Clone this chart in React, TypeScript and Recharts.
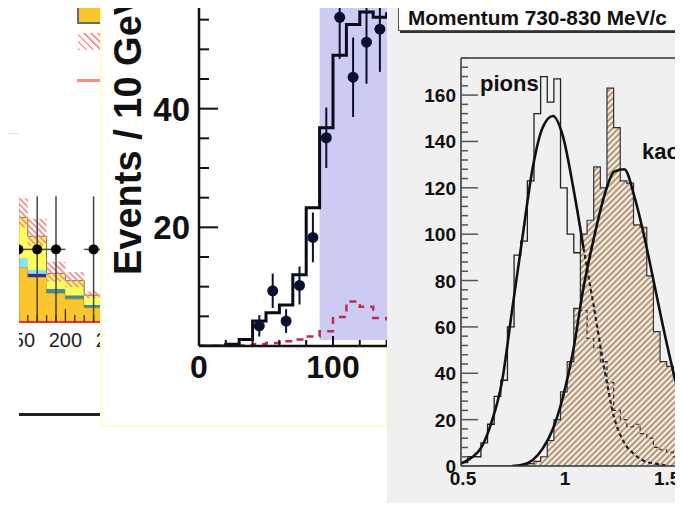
import React from "react";
import { ComposedChart, Area, Line, Scatter, ErrorBar, XAxis, YAxis, ReferenceLine } from "recharts";

const FONT = "'Liberation Sans', Arial, Helvetica, sans-serif";

// ---- left panel: stacked backgrounds (GeV bins), mostly hidden ----
const bgEdges = [140, 160, 180, 200, 220, 240, 260];
const bgOrange = [0.75, 0.62, 0.4, 0.32, 0.2, 0.17];
const bgTeal = [0, 0, 0.06, 0.05, 0.04, 0.04];
const bgNavy = [0, 0.05, 0, 0, 0, 0];
const bgCyan = [0.13, 0.05, 0, 0, 0, 0];
const bgYellow = [0.56, 0.46, 0.21, 0.2, 0.13, 0.1];
const bgBandLo = [1.3, 1.05, 0.56, 0.48, 0.33, 0.28];
const bgBandHi = [1.7, 1.42, 0.83, 0.69, 0.42, 0.36];
const bgPtX = [150, 170, 190, 230];
const bgPtY = [1, 1, 1, 1];
const bgTicks = [140, 150, 160, 170, 180, 190, 200, 210, 220, 230, 240, 250, 260, 270, 280];

// ---- middle panel: Events / 10 GeV ----
const evEdges = [0, 10, 20, 30, 40, 50, 60, 70, 80, 90, 100, 110, 120, 130, 140, 150];
const evMC = [0, 0, 0.3, 1.1, 4.2, 5.6, 6.9, 12, 23.3, 36.8, 49, 54.2, 56.3, 55.4, 56];
const evBkg = [0, 0, 0, 0.1, 0.3, 0.5, 0.8, 1.1, 1.6, 2.5, 4.9, 7.5, 6.6, 4.7, 4.5];
const evPtX = [45, 55, 65, 75, 85, 95, 105, 115, 125, 135];
const evPtY = [3.4, 9.3, 4.2, 10.2, 18.3, 35.1, 55.4, 45.3, 51.2, 53.4];
const evPtErr = [1.8, 2.9, 2, 3.2, 4.2, 5.1, 7, 6.7, 7, 7.2];
const evYTicks = [0, 5, 10, 15, 20, 25, 30, 35, 40, 45, 50, 55, 60];
const evXTicks = [0, 20, 40, 60, 80, 100, 120, 140];

// ---- right panel: Momentum 730-830 MeV/c ----
const pkEdges = [
  0.5, 0.5325, 0.565, 0.5975, 0.63, 0.6625, 0.695, 0.7275, 0.76, 0.7925, 0.825, 0.8575,
  0.89, 0.9225, 0.955, 0.9875, 1.02, 1.0525, 1.085, 1.1175, 1.15, 1.1825, 1.215, 1.2475,
  1.28, 1.3125, 1.345, 1.3775, 1.41, 1.4425, 1.475, 1.5075, 1.54, 1.5725, 1.605, 1.6375,
];
const pionHist = [
  1.5, 4, 4, 10, 18, 30, 37, 60, 91, 97, 123, 152, 168, 157, 167, 120, 100, 92, 67, 55,
  51, 45, 36, 24, 20, 17, 18, 14, 12, 8, 7, 6, 4, 2, 1,
];
const kaonHist = [
  0, 0, 0, 0, 0, 0, 0, 0, 0, 0, 1, 2, 4, 11, 20, 32, 45, 68, 100, 106, 129, 120, 163, 146,
  123, 122, 104, 103, 82, 58, 45, 43, 38, 30, 22,
];
const pionSolidBins = 18;
const pionFitX = [0.5, 0.55, 0.6, 0.65, 0.7, 0.75, 0.8, 0.85, 0.9, 0.95, 1.0, 1.05, 1.1];
const pionFitY = [1, 3.5, 8, 19, 36, 67, 98, 128, 146, 151, 142, 120, 94];
const pionTailX = [1.1, 1.15, 1.2, 1.25, 1.3, 1.35, 1.4, 1.45, 1.5];
const pionTailY = [94, 69, 43, 21, 10, 5, 2, 1, 0.3];
const kaonFitX = [0.75, 0.8, 0.85, 0.9, 0.95, 1.0, 1.05, 1.1, 1.15, 1.2, 1.25, 1.3, 1.35, 1.4, 1.45, 1.5, 1.55, 1.6, 1.65];
const kaonFitY = [0, 0.5, 2.5, 7.5, 16, 30, 50, 77, 98, 116, 127, 128, 116, 98, 77, 56, 37, 22, 12];
const pkYTicks = [0, 4, 8, 12, 16, 20, 24, 28, 32, 36, 40, 44, 48, 52, 56, 60, 64, 68, 72, 76, 80, 84, 88, 92, 96, 100, 104, 108, 112, 116, 120, 124, 128, 132, 136, 140, 144, 148, 152, 156, 160, 164, 168, 172, 176];
const pkXTicks = [0.5, 1, 1.5];

function steps(edges: number[], vals: number[], from = 0, to = vals.length) {
  const rows: { x: number; y: number }[] = [];
  rows.push({ x: edges[from], y: from === 0 ? 0 : vals[from - 1] });
  for (let i = from; i < to; i++) rows.push({ x: edges[i], y: vals[i] });
  rows.push({ x: edges[to], y: vals[to - 1] });
  return rows;
}
const zip = (xs: number[], ys: number[]) => xs.map((x, i) => ({ x, y: ys[i] }));

const bgRows = bgEdges.map((x, i) => {
  const j = Math.min(i, bgOrange.length - 1);
  return {
    x,
    orange: bgOrange[j],
    teal: bgTeal[j],
    navy: bgNavy[j],
    cyan: bgCyan[j],
    yellow: bgYellow[j],
    band: [bgBandLo[j], bgBandHi[j]],
  };
});
const bgPts = bgPtX.map((x, i) => ({ x, y: bgPtY[i], ey: [1, 0.73], ex: 10 }));

const evPts = evPtX.map((x, i) => ({ x, y: evPtY[i], ey: evPtErr[i] }));
const evShade = [
  { x: 90, y: [1, 60] },
  { x: 150, y: [1, 60] },
];

const BgXTick = ({ x, y, payload }: any) => {
  const v = payload.value;
  const major = v % 50 === 0;
  return (
    <g>
      <line x1={x} x2={x} y1={y} y2={y - (major ? 13 : 7)} stroke="#333" strokeWidth={1.3} />
      {major && (
        <text x={x} y={y + 25} textAnchor="middle" fontSize={20} fontFamily={FONT} fill="#222">
          {v}
        </text>
      )}
    </g>
  );
};

const EvYTick = ({ x, y, payload }: any) => {
  const v = payload.value;
  const major = v % 20 === 0;
  return (
    <g>
      <line x1={x} x2={x + (major ? 19 : 10)} y1={y} y2={y} stroke="#111" strokeWidth={2} />
      {major && v > 0 && (
        <text x={x - 9} y={y + 12} textAnchor="end" fontSize={33} fontWeight="bold" fontFamily={FONT} fill="#111">
          {v}
        </text>
      )}
    </g>
  );
};

const EvXTick = ({ x, y, payload }: any) => {
  const v = payload.value;
  const major = v % 100 === 0;
  return (
    <g>
      <line x1={x} x2={x} y1={y} y2={y - (major ? 10 : 6)} stroke="#111" strokeWidth={2} />
      {major && (
        <text x={x} y={y + 32} textAnchor="middle" fontSize={32} fontWeight="bold" fontFamily={FONT} fill="#111">
          {v}
        </text>
      )}
    </g>
  );
};

const PkYTick = ({ x, y, payload }: any) => {
  const v = payload.value;
  const major = v % 20 === 0;
  return (
    <g>
      <line x1={x} x2={x + (major ? 17 : 7)} y1={y} y2={y} stroke="#555" strokeWidth={1.5} />
      {major && v <= 160 && (
        <text x={x - 5} y={y + 7} textAnchor="end" fontSize={19} fontWeight="bold" fontFamily={FONT} fill="#111">
          {v}
        </text>
      )}
    </g>
  );
};

const PkXTick = ({ x, y, payload }: any) => (
  <text x={x + 2} y={y + 19} textAnchor="middle" fontSize={19} fontWeight="bold" fontFamily={FONT} fill="#111">
    {payload.value}
  </text>
);

const dot = (r: number, fill: string) => (p: any) => <circle cx={p.cx} cy={p.cy} r={r} fill={fill} />;

export default function App() {
  return (
    <div style={{ position: "relative", width: 683, height: 511, overflow: "hidden", background: "#fff", margin: -8, fontFamily: FONT }}>
      <svg width={0} height={0} style={{ position: "absolute" }}>
        <defs>
          <pattern id="kaonHatch" patternUnits="userSpaceOnUse" width={6} height={6}>
            <rect width={6} height={6} fill="#f5ecdf" />
            <path d="M0,6 L6,0 M-1,1 L1,-1 M5,7 L7,5" stroke="#b29a80" strokeWidth={2} />
          </pattern>
          <pattern id="redHatch" patternUnits="userSpaceOnUse" width={6} height={6}>
            <path d="M0,0 L6,6 M-1,5 L1,7 M5,-1 L7,1" stroke="#ff8c8c" strokeWidth={1.8} />
          </pattern>
        </defs>
      </svg>

      {/* left panel */}
      <div style={{ position: "absolute", left: 0, top: 133, width: 19, height: 1, background: "#e2e2e2" }} />
      <div style={{ position: "absolute", left: 19, top: 0, width: 110, height: 420, overflow: "hidden", background: "#fff" }}>
        <div style={{ position: "absolute", left: 58, top: -2, width: 24, height: 22, background: "#fdc52c", border: "2px solid #6a6a6a" }} />
        <div
          style={{
            position: "absolute",
            left: 59,
            top: 33,
            width: 26,
            height: 17,
            background: "repeating-linear-gradient(45deg, #ff9a9a 0 2px, transparent 2px 5px)",
          }}
        />
        <div style={{ position: "absolute", left: 58, top: 79, width: 30, height: 3, background: "#ff8a8a" }} />
        <div style={{ position: "absolute", left: 0, top: 413, width: 81, height: 3, background: "#222" }} />
        <div style={{ position: "absolute", left: -10.4, top: 103.6 }}>
          <ComposedChart width={150.4} height={258.1} data={bgRows} margin={{ top: 0, right: 0, bottom: 0, left: 0 }}>
            <XAxis
              dataKey="x"
              type="number"
              domain={[140, 300]}
              allowDataOverflow
              ticks={bgTicks}
              interval={0}
              tickSize={0}
              tickMargin={0}
              tick={BgXTick}
              axisLine={{ stroke: "#ff2a2a", strokeWidth: 2 }}
              height={40}
            />
            <YAxis hide domain={[0, 3]} allowDataOverflow />
            <Area type="stepAfter" dataKey="orange" stackId="bg" fill="#fdc52c" fillOpacity={1} stroke="#8a7a30" strokeWidth={0.8} isAnimationActive={false} />
            <Area type="stepAfter" dataKey="teal" stackId="bg" fill="#4a8a86" fillOpacity={1} stroke="none" isAnimationActive={false} />
            <Area type="stepAfter" dataKey="navy" stackId="bg" fill="#38308c" fillOpacity={1} stroke="none" isAnimationActive={false} />
            <Area type="stepAfter" dataKey="cyan" stackId="bg" fill="#86e4ee" fillOpacity={1} stroke="none" isAnimationActive={false} />
            <Area type="stepAfter" dataKey="yellow" stackId="bg" fill="#ffff5c" fillOpacity={1} stroke="#707050" strokeWidth={1} isAnimationActive={false} />
            <Area type="stepAfter" dataKey="band" fill="url(#redHatch)" fillOpacity={1} stroke="none" isAnimationActive={false} />
            <Scatter data={bgPts} dataKey="y" shape={dot(5, "#000")} isAnimationActive={false}>
              <ErrorBar dataKey="ey" direction="y" width={0} stroke="#444" strokeWidth={1.5} isAnimationActive={false} />
              <ErrorBar dataKey="ex" direction="x" width={0} stroke="#444" strokeWidth={1.5} isAnimationActive={false} />
            </Scatter>
          </ComposedChart>
        </div>
      </div>

      {/* middle panel */}
      <div
        style={{
          position: "absolute",
          left: 100,
          top: 0,
          width: 288,
          height: 427,
          overflow: "hidden",
          background: "#fff",
          boxShadow: "inset 0 0 0 2px #fffcd0",
        }}
      >
        <div style={{ position: "absolute", left: 0, top: -10 }}>
          <ComposedChart width={300} height={406} margin={{ top: 0, right: 0, bottom: 0, left: 0 }}>
            <XAxis
              dataKey="x"
              type="number"
              domain={[0, 150]}
              allowDataOverflow
              ticks={evXTicks}
              interval={0}
              tickSize={0}
              tickMargin={0}
              tick={EvXTick}
              axisLine={{ stroke: "#111", strokeWidth: 2.5 }}
              height={50}
            />
            <YAxis
              type="number"
              domain={[0, 60]}
              allowDataOverflow
              ticks={evYTicks}
              interval={0}
              tickSize={0}
              tickMargin={0}
              tick={EvYTick}
              axisLine={{ stroke: "#111", strokeWidth: 2.5 }}
              width={99}
            />
            <Area data={evShade} type="linear" dataKey="y" fill="#cbcbf3" fillOpacity={1} stroke="none" isAnimationActive={false} />
            <Line data={steps(evEdges, evBkg)} type="stepAfter" dataKey="y" stroke="#c4284a" strokeWidth={2.5} strokeDasharray="7 6" dot={false} isAnimationActive={false} />
            <Line data={steps(evEdges, evMC)} type="stepAfter" dataKey="y" stroke="#0a0a18" strokeWidth={3} dot={false} isAnimationActive={false} />
            <Scatter data={evPts} dataKey="y" shape={dot(5.5, "#0b1030")} isAnimationActive={false}>
              <ErrorBar dataKey="ey" direction="y" width={0} stroke="#0b1030" strokeWidth={2} isAnimationActive={false} />
            </Scatter>
          </ComposedChart>
        </div>
        <svg width={288} height={427} style={{ position: "absolute", left: 0, top: 0 }}>
          <text transform="translate(41,275) rotate(-90)" fontSize={38} fontWeight="bold" fontFamily={FONT} fill="#111">
            Events / 10 GeV
          </text>
        </svg>
      </div>

      {/* right panel */}
      <div style={{ position: "absolute", left: 387, top: 0, width: 296, height: 511, overflow: "hidden", background: "#f0f0f0" }}>
        <div style={{ position: "absolute", left: 0, top: 0 }}>
          <ComposedChart width={319} height={506} margin={{ top: 58, right: 0, bottom: 0, left: 0 }}>
            <XAxis
              dataKey="x"
              type="number"
              domain={[0.5, 1.7]}
              allowDataOverflow
              ticks={pkXTicks}
              interval={0}
              tickSize={0}
              tickMargin={0}
              tick={PkXTick}
              axisLine={{ stroke: "#333", strokeWidth: 1.5 }}
              height={40}
            />
            <YAxis
              type="number"
              domain={[0, 176]}
              allowDataOverflow
              ticks={pkYTicks}
              interval={0}
              tickSize={0}
              tickMargin={0}
              tick={PkYTick}
              axisLine={{ stroke: "#333", strokeWidth: 1.5 }}
              width={74}
            />
            <ReferenceLine y={176} stroke="#333" strokeWidth={1.5} />
            <Area data={steps(pkEdges, kaonHist)} type="stepAfter" dataKey="y" fill="url(#kaonHatch)" fillOpacity={1} stroke="#333" strokeWidth={1.2} isAnimationActive={false} />
            <Line data={steps(pkEdges, pionHist, 0, pionSolidBins)} type="stepAfter" dataKey="y" stroke="#222" strokeWidth={1.3} dot={false} isAnimationActive={false} />
            <Line data={steps(pkEdges, pionHist, pionSolidBins)} type="stepAfter" dataKey="y" stroke="#333" strokeWidth={1.2} strokeDasharray="4 3" dot={false} isAnimationActive={false} />
            <Line data={zip(pionFitX, pionFitY)} type="monotone" dataKey="y" stroke="#111" strokeWidth={2.6} dot={false} isAnimationActive={false} />
            <Line data={zip(pionTailX, pionTailY)} type="monotone" dataKey="y" stroke="#222" strokeWidth={2.2} strokeDasharray="4 3" dot={false} isAnimationActive={false} />
            <Line data={zip(kaonFitX, kaonFitY)} type="monotone" dataKey="y" stroke="#111" strokeWidth={2.6} dot={false} isAnimationActive={false} />
          </ComposedChart>
        </div>
        <svg width={296} height={511} style={{ position: "absolute", left: 0, top: 0 }}>
          <text x={93} y={91} fontSize={22} fontWeight="bold" fontFamily={FONT} fill="#111">
            pions
          </text>
          <text x={255} y={159} fontSize={22} fontWeight="bold" fontFamily={FONT} fill="#111">
            kaons
          </text>
        </svg>
        <div
          style={{
            position: "absolute",
            left: 11,
            top: 4,
            width: 320,
            height: 25,
            background: "#fff",
            border: "1px solid #555",
            boxShadow: "2px 2px 0 #333",
            fontSize: 20.8,
            fontWeight: "bold",
            lineHeight: "25px",
            paddingLeft: 9,
            color: "#111",
            whiteSpace: "nowrap",
          }}
        >
          Momentum 730-830 MeV/c
        </div>
      </div>
    </div>
  );
}
